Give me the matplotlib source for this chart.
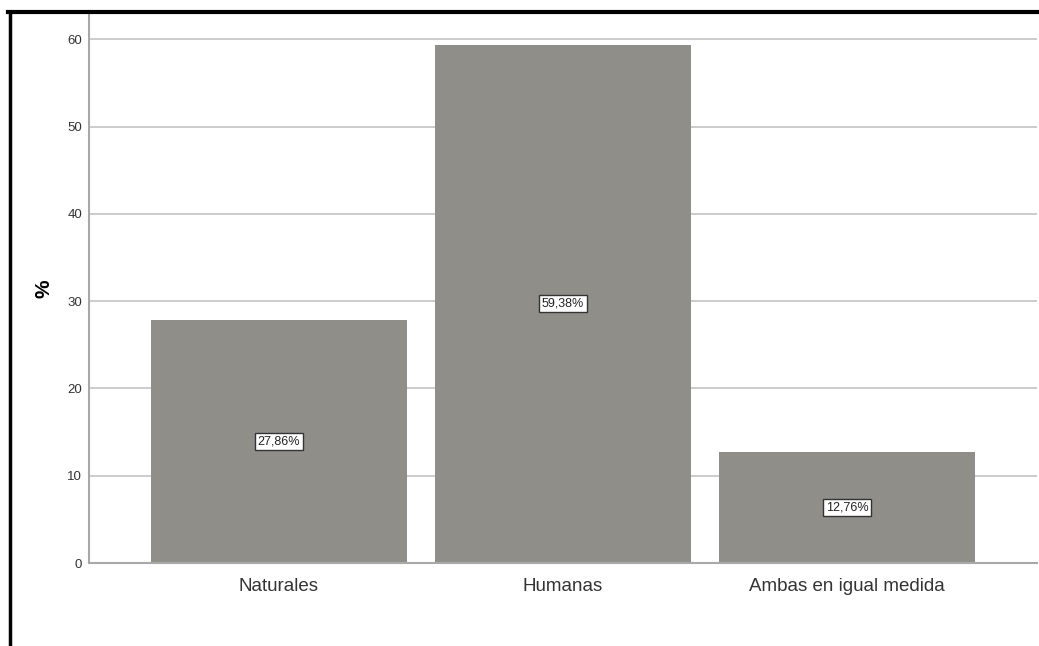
import matplotlib.pyplot as plt
from matplotlib.lines import Line2D

plt.rcParams['font.family'] = ['Liberation Sans', 'DejaVu Sans']

categories = ['Naturales', 'Humanas', 'Ambas en igual medida']
percents = [27.86, 59.38, 12.76]
yticks = [0, 10, 20, 30, 40, 50, 60]

fig = plt.figure(figsize=(10.39, 6.46), dpi=100)
ax = fig.add_axes([89 / 1039, 1 - 563 / 646, (1037 - 89) / 1039, (563 - 14) / 646])

ax.yaxis.grid(True, color='#c8c8c8', linewidth=1.3)
ax.set_axisbelow(True)
bars = ax.bar(range(len(categories)), percents, width=0.9, color='#8f8e89', zorder=2)

for i, v in enumerate(percents):
    label = f'{v:.2f}%'.replace('.', ',')
    ax.text(i, v / 2, label, ha='center', va='center', fontsize=9, color='#222222',
            bbox=dict(boxstyle='square,pad=0.2', facecolor='white', edgecolor='#333333', linewidth=1),
            zorder=3)

ax.set_xlim(-0.669, 2.669)
ax.set_ylim(0, 62.9)
ax.set_xticks(range(len(categories)))
ax.set_xticklabels(categories, fontsize=13.5, color='#333333')
ax.set_yticks(yticks)
ax.set_yticklabels([str(t) for t in yticks], fontsize=9.5, color='#333333')
ax.tick_params(axis='y', length=0, pad=5)
ax.tick_params(axis='x', length=0, pad=11)

for s in ['top', 'right']:
    ax.spines[s].set_visible(False)
for s in ['left', 'bottom']:
    ax.spines[s].set_color('#a8a8a8')
    ax.spines[s].set_linewidth(1.5)

ax.set_ylabel('%', fontsize=15, fontweight='bold', labelpad=10)

# black frame on the left and top
fig.add_artist(Line2D([9.5 / 1039, 9.5 / 1039], [0, 1 - 12 / 646], color='black', linewidth=2.5))
fig.add_artist(Line2D([8 / 1039, 1], [1 - 12 / 646, 1 - 12 / 646], color='black', linewidth=3))

fig.savefig('out.png', dpi=100, facecolor='white')
